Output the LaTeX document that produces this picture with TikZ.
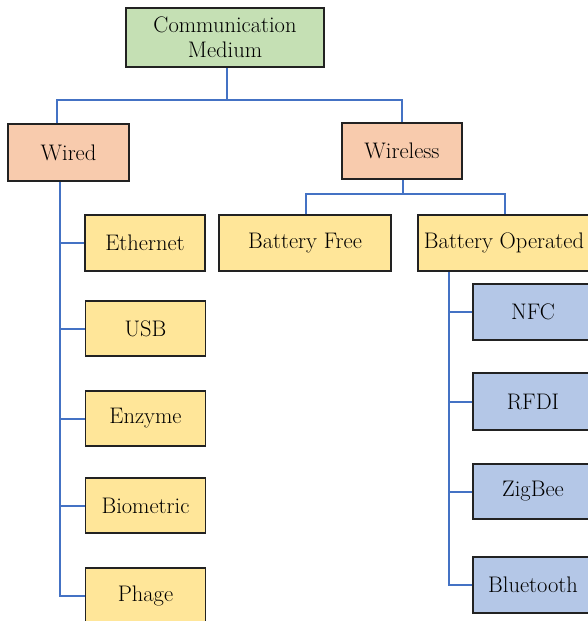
\documentclass[tikz,border=0pt]{standalone}
\definecolor{cgreen}{HTML}{C5E0B4}
\definecolor{csalmon}{HTML}{F8CBAD}
\definecolor{cyellow}{HTML}{FFE699}
\definecolor{cblue}{HTML}{B4C7E7}
\definecolor{cline}{HTML}{4472C4}
\definecolor{cborder}{HTML}{222222}
\tikzset{
  box/.style={draw=cborder, line width=1.5pt, rectangle, inner sep=0pt, align=center,
    font=\rmfamily\fontsize{22.5}{25}\selectfont},
  greenbox/.style={box, fill=cgreen},
  salmonbox/.style={box, fill=csalmon},
  yellowbox/.style={box, fill=cyellow},
  bluebox/.style={box, fill=cblue},
  conn/.style={draw=cline, line width=2pt}
}
\begin{document}
\begin{tikzpicture}[x=1pt,y=-1pt]
\useasboundingbox (0,0) rectangle (588,621);
% nodes
\node[greenbox, minimum width=198pt, minimum height=59pt] (comm) at (225,37.5) {Communication\\Medium};
\node[salmonbox, minimum width=121pt, minimum height=57pt] (wired) at (68.5,152.5) {Wired};
\node[salmonbox, minimum width=120pt, minimum height=56pt] (wireless) at (402,151) {Wireless};
\node[yellowbox, minimum width=172pt, minimum height=56pt] (bfree) at (305,243) {Battery Free};
\node[yellowbox, minimum width=172pt, minimum height=56pt] (bop) at (504,243) {Battery Operated};
\node[yellowbox, minimum width=120pt, minimum height=56pt] (eth) at (145,243) {Ethernet};
\node[yellowbox, minimum width=120pt, minimum height=55pt] (usb) at (145.5,328.5) {USB};
\node[yellowbox, minimum width=120pt, minimum height=55pt] (enz) at (145.5,418.5) {Enzyme};
\node[yellowbox, minimum width=120pt, minimum height=55pt] (bio) at (145.5,505.5) {Biometric};
\node[yellowbox, minimum width=120pt, minimum height=55pt] (phage) at (145.5,595.5) {Phage};
\node[bluebox, minimum width=120pt, minimum height=56pt] (nfc) at (533,312) {NFC};
\node[bluebox, minimum width=120pt, minimum height=57pt] (rfdi) at (533,401.5) {RFDI};
\node[bluebox, minimum width=120pt, minimum height=55pt] (zig) at (533,491.5) {ZigBee};
\node[bluebox, minimum width=120pt, minimum height=56pt] (bt) at (533,585) {Bluetooth};
% junctions
\coordinate (j1) at (227,100);
\coordinate (j2) at (403,194);
\coordinate (wv) at (59.5,0);
\coordinate (bv) at (449,0);
% connectors
\draw[conn] (comm.south -| j1) -- (j1);
\draw[conn] ([xshift=-11.5pt]wired.north) |- (j1) -| (wireless.north);
\draw[conn] (wireless.south -| j2) -- (j2);
\draw[conn] ([xshift=1pt]bfree.north) |- (j2) -| ([xshift=1pt]bop.north);
\draw[conn] (wired.south -| wv) |- (phage.west);
\draw[conn] (eth.west) -- (eth.west -| wv);
\draw[conn] (usb.west) -- (usb.west -| wv);
\draw[conn] (enz.west) -- (enz.west -| wv);
\draw[conn] (bio.west) -- (bio.west -| wv);
\draw[conn] (bop.south -| bv) |- (bt.west);
\draw[conn] (nfc.west) -- (nfc.west -| bv);
\draw[conn] (rfdi.west) -- (rfdi.west -| bv);
\draw[conn] (zig.west) -- (zig.west -| bv);
\end{tikzpicture}
\end{document}
